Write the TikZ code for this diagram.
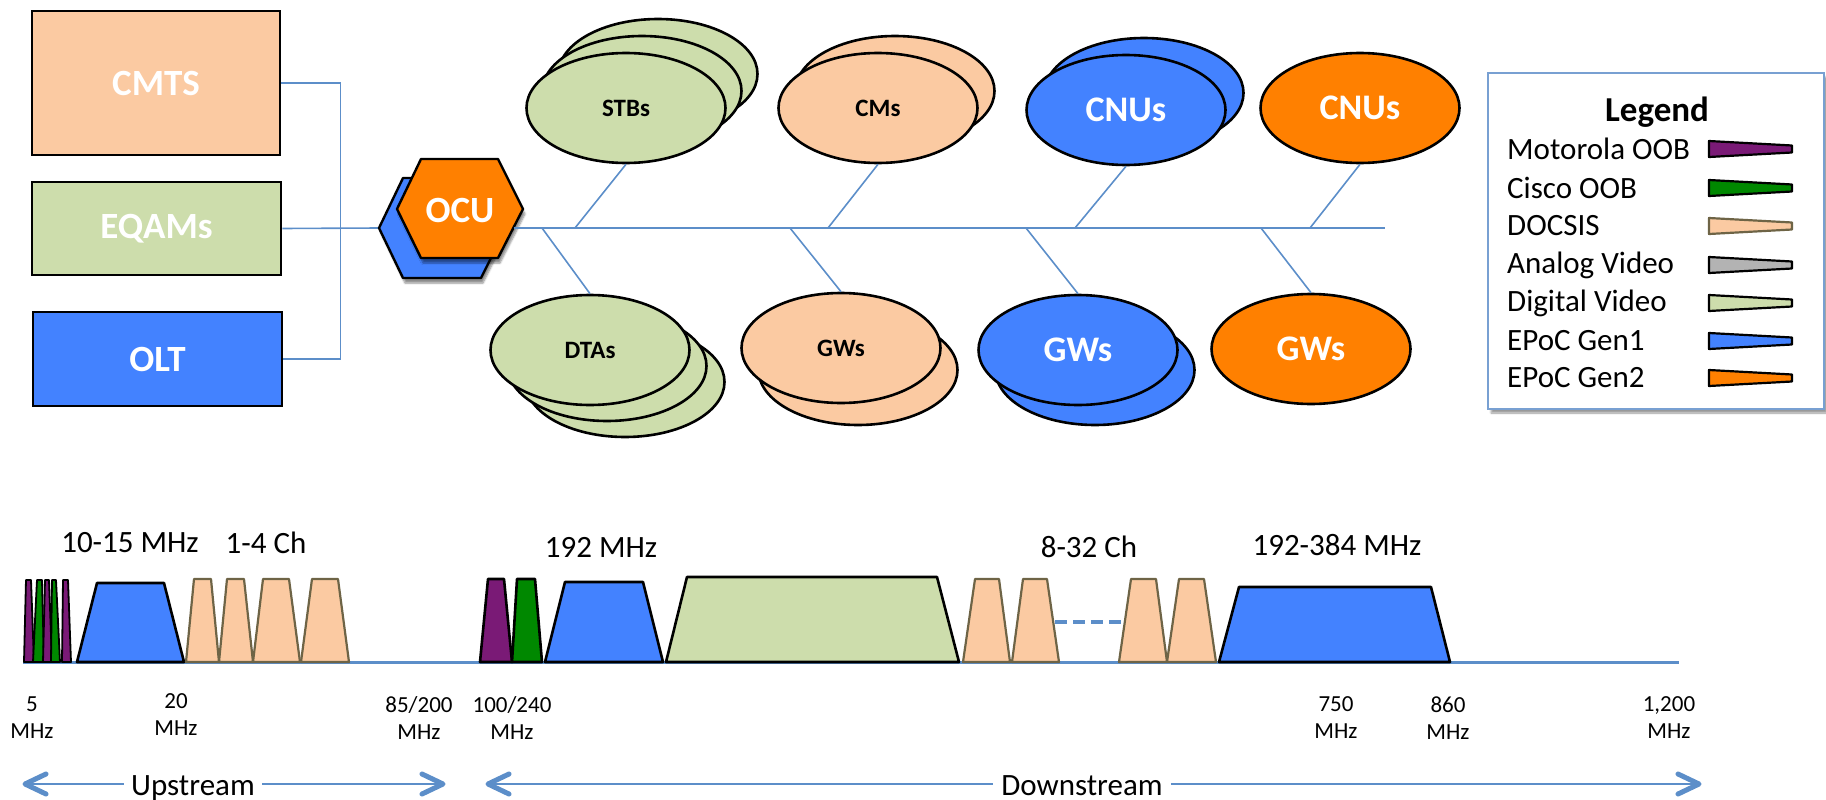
\documentclass[tikz,border=0pt]{standalone}
\usepackage{fontspec}
\setmainfont{Carlito}
\usetikzlibrary{shapes.geometric,shadows.blur}
\definecolor{peach}{RGB}{251,202,162}
\definecolor{dvgreen}{RGB}{205,221,172}
\definecolor{epblue}{RGB}{67,130,255}
\definecolor{eporange}{RGB}{255,128,0}
\definecolor{mpurple}{RGB}{122,26,118}
\definecolor{cgreen}{RGB}{0,136,0}
\definecolor{agray}{RGB}{179,179,179}
\definecolor{lineblue}{RGB}{92,142,201}
\definecolor{docsisline}{RGB}{110,100,70}
\definecolor{legendblue}{RGB}{120,160,210}
\begin{document}
\begin{tikzpicture}[x=1pt,y=-1pt,
  box/.style={draw=black, line width=2.6pt, inner sep=0pt, text=white, font=\fontsize{37}{44}\selectfont\bfseries},
  ell/.style={ellipse, draw=black, line width=2.6pt, minimum width=199pt, minimum height=110pt, inner sep=0pt},
  smalltxt/.style={font=\fontsize{25}{30}\selectfont\bfseries, text=black},
  bigtxt/.style={font=\fontsize{36}{43}\selectfont\bfseries, text=white},
  conn/.style={draw=lineblue, line width=1.6pt},
  hexa/.style={draw=black, line width=2.4pt, line join=round, blur shadow={shadow xshift=2pt, shadow yshift=-5pt, shadow blur steps=6, shadow opacity=45}},
  band/.style={draw=black, line width=2.6pt, line join=round},
  thinband/.style={draw=black, line width=1.8pt, line join=round},
  dband/.style={draw=docsisline, line width=2.2pt, line join=round, fill=peach},
  freq/.style={align=center, font=\fontsize{23}{27}\selectfont, inner sep=0pt},
  lbl/.style={font=\fontsize{31}{37}\selectfont, inner sep=0pt},
  legtxt/.style={anchor=west, font=\fontsize{31}{37}\selectfont, inner sep=0pt},
  swatch/.style={line width=2.2pt, line join=round},
  dirline/.style={draw=lineblue, line width=2.6pt},
  chev/.style={draw=lineblue, line width=5pt, line cap=round, line join=round}
]
\useasboundingbox (0,0) rectangle (1826,800);

% ---------- head-end boxes ----------
\node[box, fill=peach, minimum width=248pt, minimum height=144pt] (cmts) at (156,83) {CMTS};
\node[box, fill=dvgreen, minimum width=249pt, minimum height=93pt] (eqams) at (156.5,228.5) {EQAMs};
\node[box, fill=epblue, minimum width=249pt, minimum height=94pt] (olt) at (157.5,359) {OLT};

\coordinate (hexL) at (379,228);
\coordinate (hexR) at (514,228);
\coordinate (busend) at (1385,228);

\draw[conn] (cmts.east) -- ++(59,0) |- (olt.east);
\draw[conn] (eqams.east) -- (hexL);

% ---------- OCU hexagons ----------
\path[hexa, fill=epblue] (hexL) -- ++(24,-50) -- ++(78,0) -- ++(25,50) -- ++(-25,50) -- ++(-78,0) -- cycle;
\path[hexa, fill=eporange] (397,209) -- ++(24,-50) -- ++(77,0) -- ++(25,50) -- ++(-25,49) -- ++(-77,0) -- cycle;
\node[bigtxt, font=\fontsize{37}{44}\selectfont\bfseries] (ocu) at (460,211) {OCU};

\draw[conn] (hexR) -- (busend);

% ---------- customer devices: top row ----------
\node[ell, fill=dvgreen] (stbC) at (658,74) {};
\node[ell, fill=dvgreen] (stbB) at (642,91) {};
\node[ell, fill=dvgreen, smalltxt] (stb) at (626,108) {STBs};

\node[ell, fill=peach] (cmB) at (895,91) {};
\node[ell, fill=peach, smalltxt] (cm) at (878,108) {CMs};

\node[ell, fill=epblue] (cnuB) at (1144,93) {};
\node[ell, fill=epblue, bigtxt] (cnu) at (1126,110) {CNUs};

\node[ell, fill=eporange, bigtxt] (cnu2) at (1360,108) {CNUs};

% ---------- customer devices: bottom row ----------
\node[ell, fill=dvgreen] (dtaC) at (625,382) {};
\node[ell, fill=dvgreen] (dtaB) at (607,366) {};
\node[ell, fill=dvgreen, smalltxt] (dta) at (590,350) {DTAs};

\node[ell, fill=peach] (gwB) at (858,370) {};
\node[ell, fill=peach, smalltxt] (gw) at (841,348) {GWs};

\node[ell, fill=epblue] (gw1B) at (1095,370) {};
\node[ell, fill=epblue, bigtxt] (gw1) at (1078,350) {GWs};

\node[ell, fill=eporange, bigtxt] (gw2) at (1311,349) {GWs};

% ---------- taps on the bus ----------
\coordinate (t1) at (575,228);
\coordinate (t2) at (828,228);
\coordinate (t3) at (1075,228);
\coordinate (t4) at (1310,228);
\coordinate (b1) at (542,228);
\coordinate (b2) at (790,228);
\coordinate (b3) at (1026,228);
\coordinate (b4) at (1261,228);
\draw[conn] (stb.south) -- (t1);
\draw[conn] (cm.south) -- (t2);
\draw[conn] (cnu.south) -- (t3);
\draw[conn] (cnu2.south) -- (t4);
\draw[conn] (b1) -- (dta.north);
\draw[conn] (b2) -- (gw.north);
\draw[conn] (b3) -- (gw1.north);
\draw[conn] (b4) -- (gw2.north);

% ---------- legend ----------
\node[draw=legendblue, line width=2pt, fill=white, minimum width=336pt, minimum height=336pt, inner sep=0pt,
      blur shadow={shadow xshift=3pt, shadow yshift=-4pt, shadow blur steps=6, shadow opacity=40}] (legend) at (1656,241) {};
\node[font=\fontsize{35}{42}\selectfont\bfseries, inner sep=0pt] (legtitle) at (1657,112) {Legend};
\foreach \y/\c/\t/\d in {149/mpurple/Motorola OOB/black, 188/cgreen/Cisco OOB/black, 226/peach/DOCSIS/docsisline, 265/agray/Analog Video/black, 303/dvgreen/Digital Video/black, 341/epblue/EPoC Gen1/black, 378/eporange/EPoC Gen2/black}{
  \node[legtxt] (leg\y) at (1507,\y) {\t};
  \draw[swatch, draw=\d, fill=\c] (1709,\y-8) -- (1792,\y-3.5) -- (1792,\y+3.5) -- (1709,\y+8) -- cycle;
}

% ---------- spectrum ----------
\draw[draw=lineblue, line width=3pt] (23,662) -- (1679,662);

% upstream OOB carriers
\draw[thinband, fill=mpurple] (24,662) -- (26,580) -- (31,580) -- (34,662) -- cycle;
\draw[thinband, fill=cgreen] (33,662) -- (37,580) -- (42,580) -- (44,662) -- cycle;
\draw[thinband, fill=mpurple] (43,662) -- (45,580) -- (49,580) -- (52,662) -- cycle;
\draw[thinband, fill=cgreen] (51,662) -- (52,580) -- (56,580) -- (60,662) -- cycle;
\draw[thinband, fill=mpurple] (62,662) -- (63,580) -- (68,580) -- (71,662) -- cycle;

% upstream EPoC + DOCSIS
\draw[band, fill=epblue] (77,662) -- (97,583) -- (164,583) -- (184,662) -- cycle;
\draw[dband] (186,662) -- (194,579) -- (211,579) -- (219,662) -- cycle;
\draw[dband] (219,662) -- (227,579) -- (244,579) -- (253,662) -- cycle;
\draw[dband] (253,662) -- (263,579) -- (289,579) -- (300,662) -- cycle;
\draw[dband] (301,662) -- (312,579) -- (338,579) -- (349,662) -- cycle;

% downstream
\draw[band, fill=mpurple] (480,662) -- (488,579) -- (504,579) -- (512,662) -- cycle;
\draw[band, fill=cgreen] (512,662) -- (517,579) -- (535,579) -- (542,662) -- cycle;
\draw[band, fill=epblue] (545,662) -- (565,582) -- (643,582) -- (663,662) -- cycle;
\draw[band, fill=dvgreen] (666,662) -- (687,577) -- (937,577) -- (959,662) -- cycle;
\draw[dband] (963,662) -- (975,579) -- (999,579) -- (1010,662) -- cycle;
\draw[dband] (1012,662) -- (1023,579) -- (1047,579) -- (1059,662) -- cycle;
\draw[draw=lineblue, line width=4.5pt, dash pattern=on 12pt off 6pt] (1055,622) -- (1126,622);
\draw[dband] (1119,662) -- (1131,579) -- (1156,579) -- (1167,662) -- cycle;
\draw[dband] (1167,662) -- (1179,579) -- (1204,579) -- (1216,662) -- cycle;
\draw[band, fill=epblue] (1219,662) -- (1239,587) -- (1431,587) -- (1450,662) -- cycle;

% labels above
\node[lbl] (l1) at (130,543) {10-15 MHz};
\node[lbl] (l2) at (266,543) {1-4 Ch};
\node[lbl] (l3) at (601,547) {192 MHz};
\node[lbl] (l4) at (1089,547) {8-32 Ch};
\node[lbl] (l5) at (1337,545) {192-384 MHz};

% frequency marks
\node[freq] (f1) at (32,718) {5\\MHz};
\node[freq] (f2) at (176,715) {20\\MHz};
\node[freq] (f3) at (419,718) {85/200\\MHz};
\node[freq] (f4) at (512,718) {100/240\\MHz};
\node[freq] (f5) at (1336,718) {750\\MHz};
\node[freq] (f6) at (1448,718) {860\\MHz};
\node[freq] (f7) at (1669,718) {1,200\\MHz};

% direction arrows
\node[lbl, anchor=base, inner sep=7pt] (up) at (193,795) {Upstream};
\node[lbl, anchor=base, inner sep=8pt] (down) at (1082,795) {Downstream};
\coordinate (upL) at (25,784);
\coordinate (upR) at (443,784);
\coordinate (dnL) at (488,784);
\coordinate (dnR) at (1699,784);
\draw[dirline] (upL) -- (up.west |- upL);
\draw[dirline] (up.east |- upR) -- (upR);
\draw[dirline] (dnL) -- (down.west |- dnL);
\draw[dirline] (down.east |- dnR) -- (dnR);
\draw[chev] ([shift={(21,-10)}]upL) -- (upL) -- ([shift={(21,10)}]upL);
\draw[chev] ([shift={(-21,-10)}]upR) -- (upR) -- ([shift={(-21,10)}]upR);
\draw[chev] ([shift={(21,-10)}]dnL) -- (dnL) -- ([shift={(21,10)}]dnL);
\draw[chev] ([shift={(-21,-10)}]dnR) -- (dnR) -- ([shift={(-21,10)}]dnR);
\end{tikzpicture}
\end{document}
